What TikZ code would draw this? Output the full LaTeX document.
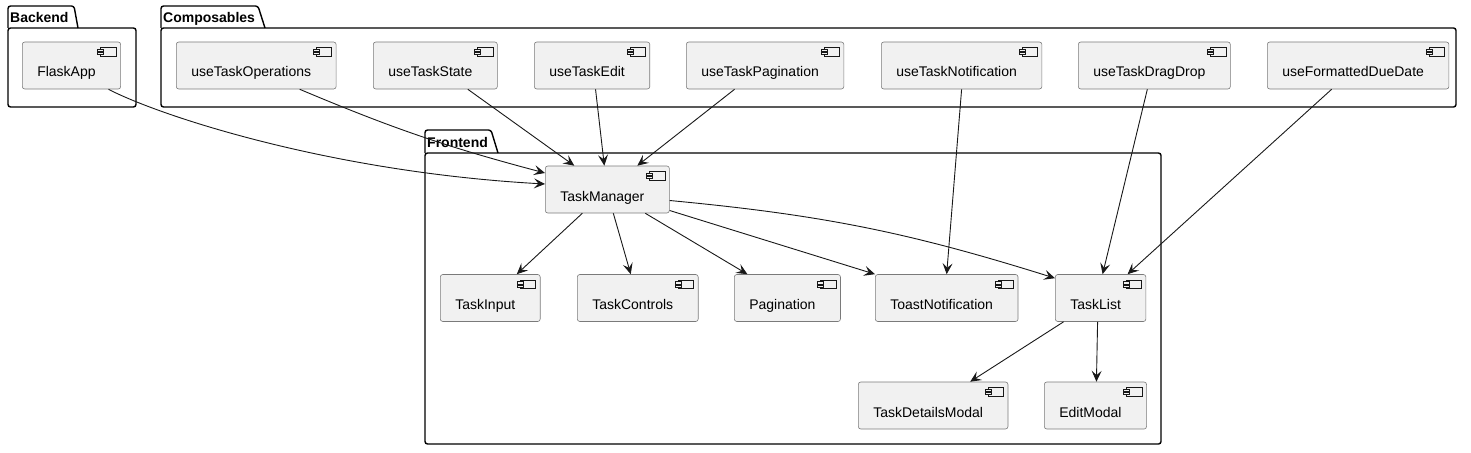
\documentclass[tikz,border=0pt]{standalone}
\usepackage{fontspec}
\setmainfont{Liberation Sans}
\usepackage{xcolor}
\usetikzlibrary{arrows.meta,positioning,calc}
\definecolor{compfill}{HTML}{F1F1F1}
\definecolor{compline}{HTML}{7A7A7A}
\definecolor{ink}{HTML}{181818}

\begin{document}
\begin{tikzpicture}[
    x=1pt, y=-1pt,
    comp/.style={rectangle, draw=compline, fill=compfill, line width=0.6pt, rounded corners=2.5pt,
        minimum height=47pt, inner xsep=15pt, text height=25pt, text depth=2pt, anchor=west,
        font=\fontsize{14}{16}\selectfont, execute at end node=\kern10pt,
        path picture={
            \draw[ink, line width=0.5pt, sharp corners] ([shift={(-20pt,-5.5pt)}]path picture bounding box.north east) rectangle ([shift={(-4.5pt,-14pt)}]path picture bounding box.north east);
            \draw[ink, fill=compfill, line width=0.5pt, sharp corners] ([shift={(-23pt,-7pt)}]path picture bounding box.north east) rectangle ([shift={(-17pt,-9.3pt)}]path picture bounding box.north east);
            \draw[ink, fill=compfill, line width=0.5pt, sharp corners] ([shift={(-23pt,-10.3pt)}]path picture bounding box.north east) rectangle ([shift={(-17pt,-12.6pt)}]path picture bounding box.north east);
        }},
    pkg/.style={draw=black, line width=1.4pt, rounded corners=2.5pt},
    pkglabel/.style={anchor=base west, inner sep=0pt, font=\fontsize{14}{16}\selectfont\bfseries},
    arrow/.style={-{Stealth[length=11pt,width=10pt,inset=4.5pt]}, draw=ink, line width=0.9pt},
]
    \useasboundingbox (0,0) rectangle (1471,452);

    % Packages
    \draw[pkg] (8,28) rectangle (136,107);
    \draw[pkg] (8,28) -- (8,6) -- (74,6) -- (78,28);
    \node[pkglabel] (backend) at (10,22.5) {Backend};
    \draw[pkg] (161,28) rectangle (1456,107);
    \draw[pkg] (161,28) -- (161,6) -- (258,6) -- (265,28);
    \node[pkglabel] (composables) at (163,22.5) {Composables};
    \draw[pkg] (425,153) rectangle (1161,444);
    \draw[pkg] (425,153) -- (425,130) -- (491,130) -- (498,153);
    \node[pkglabel] (frontend) at (427,147.5) {Frontend};

    % Nodes
    \node[comp] (flask) at (22,65.5) {FlaskApp};
    \node[comp] (ops) at (176,65.5) {useTaskOperations};
    \node[comp] (state) at (373,65.5) {useTaskState};
    \node[comp] (edit) at (534,65.5) {useTaskEdit};
    \node[comp] (pager) at (686,65.5) {useTaskPagination};
    \node[comp] (notify) at (881,65.5) {useTaskNotification};
    \node[comp] (dragdrop) at (1078,65.5) {useTaskDragDrop};
    \node[comp] (duedate) at (1267,65.5) {useFormattedDueDate};
    \node[comp] (manager) at (545,189.5) {TaskManager};
    \node[comp] (input) at (440,298) {TaskInput};
    \node[comp] (controls) at (577,298) {TaskControls};
    \node[comp] (pagination) at (734,298) {Pagination};
    \node[comp] (toast) at (875,298) {ToastNotification};
    \node[comp] (tasklist) at (1055,298) {TaskList};
    \node[comp] (details) at (858,405.5) {TaskDetailsModal};
    \node[comp] (editmodal) at (1044,405.5) {EditModal};

    % Arrows
    \draw[arrow] ([xshift=37pt]flask.south) .. controls (160,116) and (330,172) .. ([yshift=5.5pt]manager.west);
    \draw[arrow] ([xshift=43.5pt]ops.south) to[bend right=4] ([yshift=16.5pt]manager.west);
    \draw[arrow] ([xshift=32.5pt]state.south) -- ([xshift=-33pt]manager.north);
    \draw[arrow] ([xshift=3.5pt]edit.south) -- ([xshift=-3pt]manager.north);
    \draw[arrow] ([xshift=-30.5pt]pager.south) -- ([xshift=30pt]manager.north);
    \draw[arrow] ([xshift=-25pt]manager.south) -- ([xshift=26.5pt]input.north);
    \draw[arrow] ([xshift=6pt]manager.south) -- ([xshift=-7pt]controls.north);
    \draw[arrow] ([xshift=38pt]manager.south) -- ([xshift=-40pt]pagination.north);
    \draw[arrow] ([yshift=-21pt]manager.east) -- (toast.north west);
    \draw[arrow] ([yshift=-11pt]manager.east) to[bend left=6] ([yshift=-4pt]tasklist.north west);
    \draw[arrow] (notify.south) -- (toast.north);
    \draw[arrow] ([xshift=-7pt]dragdrop.south) -- ([xshift=2pt]tasklist.north);
    \draw[arrow] ([xshift=-26.5pt]duedate.south) -- ([xshift=27pt]tasklist.north);
    \draw[arrow] ([xshift=-37pt]tasklist.south) -- ([xshift=37pt]details.north);
    \draw[arrow] ([xshift=-3pt]tasklist.south) -- ([xshift=1pt]editmodal.north);
\end{tikzpicture}
\end{document}
